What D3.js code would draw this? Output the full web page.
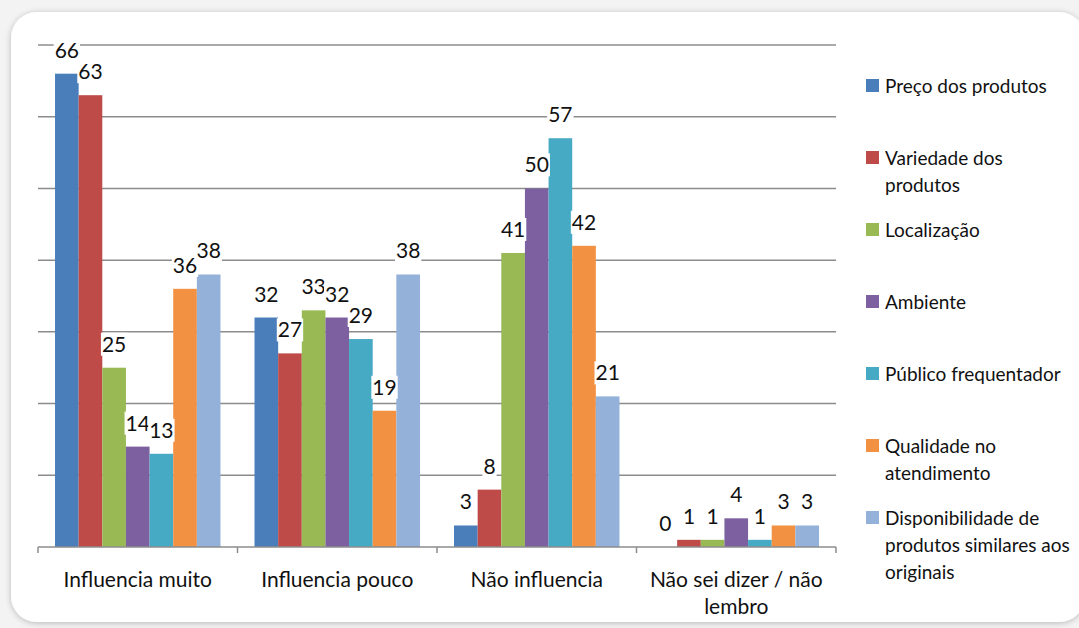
<!DOCTYPE html>
<html>
<head>
<meta charset="utf-8">
<script src="https://cdn.jsdelivr.net/npm/d3@7"></script>
<style>
  html, body { margin: 0; padding: 0; background: #f3f3f3; }
  svg { display: block; }
  text { font-family: Lato, "Open Sans", sans-serif; fill: #111111; }
</style>
</head>
<body>
<svg id="chart" width="1079" height="628"></svg>
<script>
const categories = [["Influencia muito"], ["Influencia pouco"], ["Não influencia"], ["Não sei dizer / não", "lembro"]];
const seriesNames = ["Preço dos  produtos", "Variedade dos produtos", "Localização", "Ambiente", "Público frequentador", "Qualidade no atendimento", "Disponibilidade de produtos similares aos originais"];
const legendLines = [["Preço dos  produtos"], ["Variedade dos", "produtos"], ["Localização"], ["Ambiente"], ["Público frequentador"], ["Qualidade no", "atendimento"], ["Disponibilidade de", "produtos similares aos", "originais"]];
const colors = ["#4a7ebb", "#be4b48", "#98b954", "#7d60a0", "#46aac5", "#f39143", "#93b1d9"];
// values[series][category]
const precoProdutos = [66, 32, 3, 0];
const variedadeProdutos = [63, 27, 8, 1];
const localizacao = [25, 33, 41, 1];
const ambiente = [14, 32, 50, 4];
const publicoFrequentador = [13, 29, 57, 1];
const qualidadeAtendimento = [36, 19, 42, 3];
const disponibilidade = [38, 38, 21, 3];
const seriesValues = [precoProdutos, variedadeProdutos, localizacao, ambiente, publicoFrequentador, qualidadeAtendimento, disponibilidade];
const yTicks = [0, 10, 20, 30, 40, 50, 60, 70];

const svg = d3.select("#chart");

// card background
const defs = svg.append("defs");
const f = defs.append("filter").attr("id", "shadow").attr("x", "-5%").attr("y", "-5%").attr("width", "110%").attr("height", "110%");
f.append("feGaussianBlur").attr("in", "SourceAlpha").attr("stdDeviation", 3).attr("result", "b");
f.append("feOffset").attr("in", "b").attr("dx", 0).attr("dy", 1).attr("result", "o");
f.append("feComponentTransfer").attr("in", "o").attr("result", "s").append("feFuncA").attr("type", "linear").attr("slope", 0.25);
const m = f.append("feMerge"); m.append("feMergeNode").attr("in", "s"); m.append("feMergeNode").attr("in", "SourceGraphic");
svg.append("rect").attr("x", 11).attr("y", 12).attr("width", 1074).attr("height", 610).attr("rx", 26)
  .attr("fill", "#ffffff").attr("filter", "url(#shadow)");

const x0 = d3.scaleBand().domain(d3.range(categories.length)).range([38, 836]).padding(0);
const x1 = d3.scaleBand().domain(d3.range(seriesNames.length)).range([0, x0.bandwidth()]).paddingInner(0).paddingOuter(0.72);
const y = d3.scaleLinear().domain([0, 70]).range([547, 45]);

// gridlines
svg.append("g").selectAll("line").data(yTicks.slice(1)).join("line")
  .attr("x1", 38).attr("x2", 836).attr("y1", d => y(d)).attr("y2", d => y(d))
  .attr("stroke", "#8c8c8c").attr("stroke-width", 1.5);

// bars
const groups = svg.append("g").selectAll("g").data(categories).join("g")
  .attr("transform", (d, i) => `translate(${x0(i)},0)`);
groups.each(function (c, ci) {
  const g = d3.select(this);
  g.selectAll("rect").data(seriesValues.map((s, si) => ({ si, v: s[ci] }))).join("rect")
    .attr("x", d => x1(d.si)).attr("width", x1.bandwidth())
    .attr("y", d => y(d.v)).attr("height", d => y(0) - y(d.v))
    .attr("fill", d => colors[d.si]);
});

// x axis
const axis = svg.append("g").attr("transform", `translate(0,${y(0)})`)
  .call(d3.axisBottom(x0).tickValues([]).tickSizeOuter(0));
axis.select(".domain").remove();
axis.append("line").attr("x1", 38).attr("x2", 836).attr("stroke", "#8c8c8c").attr("stroke-width", 1.5);
axis.selectAll(".sep").data(d3.range(categories.length + 1)).join("line").attr("class", "sep")
  .attr("x1", i => i < categories.length ? x0(i) : x0.range()[1])
  .attr("x2", i => i < categories.length ? x0(i) : x0.range()[1])
  .attr("y1", 0).attr("y2", 6).attr("stroke", "#8c8c8c").attr("stroke-width", 1.5);

// category labels
svg.append("g").selectAll("text").data(categories).join("text")
  .attr("x", (d, i) => x0(i) + x0.bandwidth() / 2).attr("y", 587)
  .attr("text-anchor", "middle").attr("font-size", 21)
  .each(function (lines) {
    d3.select(this).selectAll("tspan").data(lines).join("tspan")
      .attr("x", d3.select(this).attr("x")).attr("dy", (d, i) => i === 0 ? 0 : 27).text(d => d);
  });

// data labels with white boxes
const labelsG = svg.append("g");
categories.forEach((c, ci) => {
  seriesValues.forEach((s, si) => {
    const cx = x0(ci) + x1(si) + x1.bandwidth() / 2;
    const t = labelsG.append("text").attr("x", cx).attr("y", y(s[ci]) - 16)
      .attr("text-anchor", "middle").attr("font-size", 21).text(s[ci]);
    const bb = t.node().getBBox();
    labelsG.insert("rect", () => t.node())
      .attr("x", bb.x - 1).attr("y", bb.y + 2).attr("width", bb.width + 2).attr("height", bb.height - 2)
      .attr("fill", "#ffffff");
  });
});

// legend
const leg = svg.append("g").selectAll("g").data(legendLines).join("g")
  .attr("transform", (d, i) => `translate(866,${86 + 72 * i})`);
leg.append("rect").attr("x", 0).attr("y", -7).attr("width", 13).attr("height", 13)
  .attr("fill", (d, i) => colors[i]);
leg.append("text").attr("x", 19).attr("y", 7).attr("font-size", 19)
  .each(function (lines) {
    d3.select(this).selectAll("tspan").data(lines).join("tspan")
      .attr("x", 19).attr("dy", (d, i) => i === 0 ? 0 : 27).text(d => d);
  });
</script>
</body>
</html>
